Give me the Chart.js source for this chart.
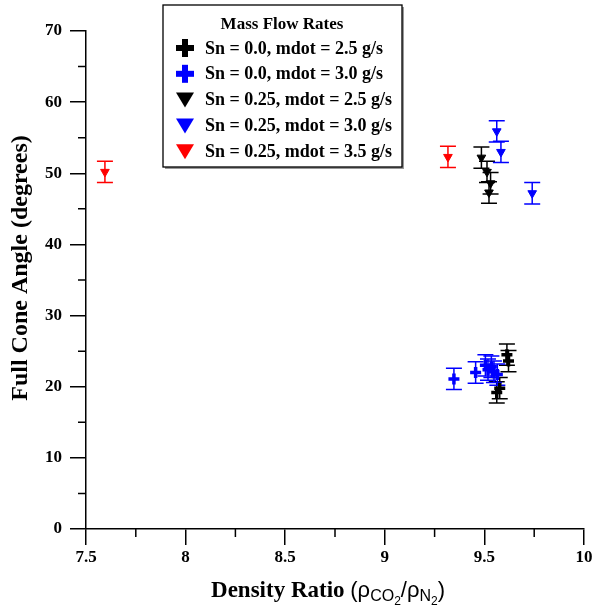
<!DOCTYPE html>
<html>
<head>
<meta charset="utf-8">
<script src="https://cdn.jsdelivr.net/npm/chart.js@4.4.1/dist/chart.umd.min.js"></script>
<style>
  html, body { margin: 0; padding: 0; background: #fff; }
  canvas { display: block; }
</style>
</head>
<body>
<canvas id="coneChart" width="595" height="607"></canvas>
<script>
// series: Sn = swirl number, mdot = mass flow rate
const seriesLabels = [
  'Sn = 0.0, mdot = 2.5 g/s',
  'Sn = 0.0, mdot = 3.0 g/s',
  'Sn = 0.25, mdot = 2.5 g/s',
  'Sn = 0.25, mdot = 3.0 g/s',
  'Sn = 0.25, mdot = 3.5 g/s'
]
const seriesColors = ['#000000', '#0000ff', '#000000', '#0000ff', '#ff0000']
const seriesMarkers = ['cross', 'cross', 'triangle', 'triangle', 'triangle']

const xSn0m25 = [9.613, 9.621, 9.562, 9.577]
const ySn0m25 = [24.5, 23.6, 19.2, 19.8]
const eSn0m25 = [1.5, 1.5, 1.5, 1.5]

const xSn0m30 = [9.347, 9.456, 9.505, 9.518, 9.535, 9.548, 9.565]
const ySn0m30 = [21.1, 22.0, 23.0, 22.4, 22.8, 22.1, 21.7]
const eSn0m30 = [1.5, 1.5, 1.5, 1.5, 1.5, 1.5, 1.5]

const xSn25m25 = [9.485, 9.513, 9.531, 9.523]
const ySn25m25 = [52.2, 50.2, 48.6, 47.3]
const eSn25m25 = [1.5, 1.5, 1.5, 1.5]

const xSn25m30 = [9.562, 9.583, 9.740]
const ySn25m30 = [55.9, 53.0, 47.2]
const eSn25m30 = [1.5, 1.5, 1.5]

const xSn25m35 = [7.595, 9.317]
const ySn25m35 = [50.2, 52.3]
const eSn25m35 = [1.5, 1.5]

const xTicks = [7.5, 8, 8.5, 9, 9.5, 10]
const xTickLabels = ['7.5', '8', '8.5', '9', '9.5', '10']
const xMinorTicks = [7.75, 8.25, 8.75, 9.25, 9.75]
const yTicks = [0, 10, 20, 30, 40, 50, 60, 70]
const yMinorTicks = [5, 15, 25, 35, 45, 55, 65]

const legendTitle = 'Mass Flow Rates'

const xs = [xSn0m25, xSn0m30, xSn25m25, xSn25m30, xSn25m35]
const ys = [ySn0m25, ySn0m30, ySn25m25, ySn25m30, ySn25m35]
const es = [eSn0m25, eSn0m30, eSn25m25, eSn25m30, eSn25m35]

const serif = '"Liberation Serif", "Times New Roman", serif'
const sans = '"Liberation Sans", Arial, sans-serif'

const datasets = seriesLabels.map((label, i) => ({
  label: label,
  data: xs[i].map((x, j) => ({ x: x, y: ys[i][j] })),
  errors: es[i],
  marker: seriesMarkers[i],
  pointStyle: seriesMarkers[i],
  rotation: seriesMarkers[i] === 'triangle' ? 180 : 0,
  pointRadius: seriesMarkers[i] === 'triangle' ? 5 : 5.5,
  borderWidth: seriesMarkers[i] === 'triangle' ? 1 : 3.5,
  borderColor: seriesColors[i],
  backgroundColor: seriesColors[i],
  pointHoverRadius: 5
}))

const errorBars = {
  id: 'errorBars',
  beforeDatasetsDraw: chart => {
    const ctx = chart.ctx
    const xScale = chart.scales.x
    const yScale = chart.scales.y
    ctx.save()
    ctx.lineWidth = 1.5
    chart.data.datasets.forEach(ds => {
      ctx.strokeStyle = ds.borderColor
      ds.data.forEach((p, j) => {
        const e = ds.errors[j]
        const px = xScale.getPixelForValue(p.x)
        const top = yScale.getPixelForValue(p.y + e)
        const bot = yScale.getPixelForValue(p.y - e)
        ctx.beginPath()
        ctx.moveTo(px, top)
        ctx.lineTo(px, bot)
        ctx.moveTo(px - 8, top)
        ctx.lineTo(px + 8, top)
        ctx.moveTo(px - 8, bot)
        ctx.lineTo(px + 8, bot)
        ctx.stroke()
      })
    })
    ctx.restore()
  }
}

const minorTicks = {
  id: 'minorTicks',
  afterDraw: chart => {
    const ctx = chart.ctx
    const area = chart.chartArea
    ctx.save()
    ctx.strokeStyle = '#000'
    ctx.lineWidth = 1.5
    ctx.beginPath()
    xMinorTicks.forEach(v => {
      const px = chart.scales.x.getPixelForValue(v)
      ctx.moveTo(px, area.bottom)
      ctx.lineTo(px, area.bottom + 8)
    })
    yMinorTicks.forEach(v => {
      const py = chart.scales.y.getPixelForValue(v)
      ctx.moveTo(area.left - 8, py)
      ctx.lineTo(area.left, py)
    })
    ctx.stroke()
    ctx.restore()
  }
}

const axisTitles = {
  id: 'axisTitles',
  afterDraw: chart => {
    const ctx = chart.ctx
    ctx.save()
    ctx.fillStyle = '#000'
    ctx.textBaseline = 'alphabetic'

    // y title
    ctx.save()
    ctx.translate(27, 268)
    ctx.rotate(-Math.PI / 2)
    ctx.font = 'bold 24px ' + serif
    ctx.textAlign = 'center'
    ctx.fillText('Full Cone Angle (degrees)', 0, 0)
    ctx.restore()

    // x title with subscripts
    const parts = [
      { t: 'Density Ratio ', f: 'bold 23px ' + serif, dy: 0 },
      { t: '(\u03c1', f: '22px ' + sans, dy: 0 },
      { t: 'CO', f: '16px ' + sans, dy: 4 },
      { t: '2', f: '12px ' + sans, dy: 8 },
      { t: '/\u03c1', f: '22px ' + sans, dy: 0 },
      { t: 'N', f: '16px ' + sans, dy: 4 },
      { t: '2', f: '12px ' + sans, dy: 8 },
      { t: ')', f: '22px ' + sans, dy: 0 }
    ]
    let total = 0
    parts.forEach(p => {
      ctx.font = p.f
      p.w = ctx.measureText(p.t).width
      total += p.w
    })
    let x = 328 - total / 2
    const base = 597
    ctx.textAlign = 'left'
    parts.forEach(p => {
      ctx.font = p.f
      ctx.fillText(p.t, x, base + p.dy)
      x += p.w
    })
    ctx.restore()
  }
}

const boxLegend = {
  id: 'boxLegend',
  afterDraw: chart => {
    const ctx = chart.ctx
    const left = 163
    const top = 5
    const width = 239
    const height = 162
    ctx.save()
    ctx.fillStyle = '#999'
    ctx.fillRect(left + 2, top + 2, width, height)
    ctx.fillStyle = '#fff'
    ctx.fillRect(left, top, width, height)
    ctx.strokeStyle = '#000'
    ctx.lineWidth = 1.3
    ctx.strokeRect(left, top, width, height)

    ctx.fillStyle = '#000'
    ctx.textBaseline = 'middle'
    ctx.textAlign = 'center'
    ctx.font = 'bold 17px ' + serif
    ctx.fillText(legendTitle, 282, 25)

    ctx.textAlign = 'left'
    ctx.font = 'bold 18px ' + serif
    chart.data.datasets.forEach((ds, i) => {
      const cy = 48 + i * 25.8
      const cx = 185
      ctx.fillStyle = ds.backgroundColor
      if (ds.marker === 'cross') {
        ctx.fillRect(cx - 9, cy - 3, 18, 6)
        ctx.fillRect(cx - 3, cy - 9, 6, 18)
      } else {
        ctx.beginPath()
        ctx.moveTo(cx - 9, cy - 7)
        ctx.lineTo(cx + 9, cy - 7)
        ctx.lineTo(cx, cy + 8)
        ctx.closePath()
        ctx.fill()
      }
      ctx.fillStyle = '#000'
      ctx.fillText(ds.label, 205, cy + 1)
    })
    ctx.restore()
  }
}

new Chart(document.getElementById('coneChart').getContext('2d'), {
  type: 'scatter',
  data: { datasets: datasets },
  options: {
    responsive: false,
    animation: false,
    devicePixelRatio: 1,
    layout: { padding: { top: 31, right: 11, left: 0, bottom: 0 } },
    plugins: {
      legend: { display: false },
      tooltip: { enabled: false }
    },
    scales: {
      x: {
        type: 'linear',
        min: 7.5,
        max: 10,
        afterBuildTicks: scale => {
          scale.ticks = xTicks.map(v => ({ value: v }))
        },
        afterFit: scale => {
          scale.height = 78
        },
        ticks: {
          color: '#000',
          font: { family: serif, size: 17, weight: 'bold' },
          padding: 2,
          maxRotation: 0,
          callback: (v, i) => xTickLabels[i]
        },
        grid: {
          display: true,
          drawOnChartArea: false,
          drawTicks: true,
          tickLength: 16,
          color: '#000',
          lineWidth: 1.5
        },
        border: { display: true, color: '#000', width: 1.5 }
      },
      y: {
        type: 'linear',
        min: 0,
        max: 70,
        afterBuildTicks: scale => {
          scale.ticks = yTicks.map(v => ({ value: v }))
        },
        afterFit: scale => {
          scale.width = 86
        },
        ticks: {
          color: '#000',
          font: { family: serif, size: 17, weight: 'bold' },
          padding: 8
        },
        grid: {
          display: true,
          drawOnChartArea: false,
          drawTicks: true,
          tickLength: 16,
          color: '#000',
          lineWidth: 1.5
        },
        border: { display: true, color: '#000', width: 1.5 }
      }
    }
  },
  plugins: [errorBars, minorTicks, axisTitles, boxLegend]
})
</script>
</body>
</html>
